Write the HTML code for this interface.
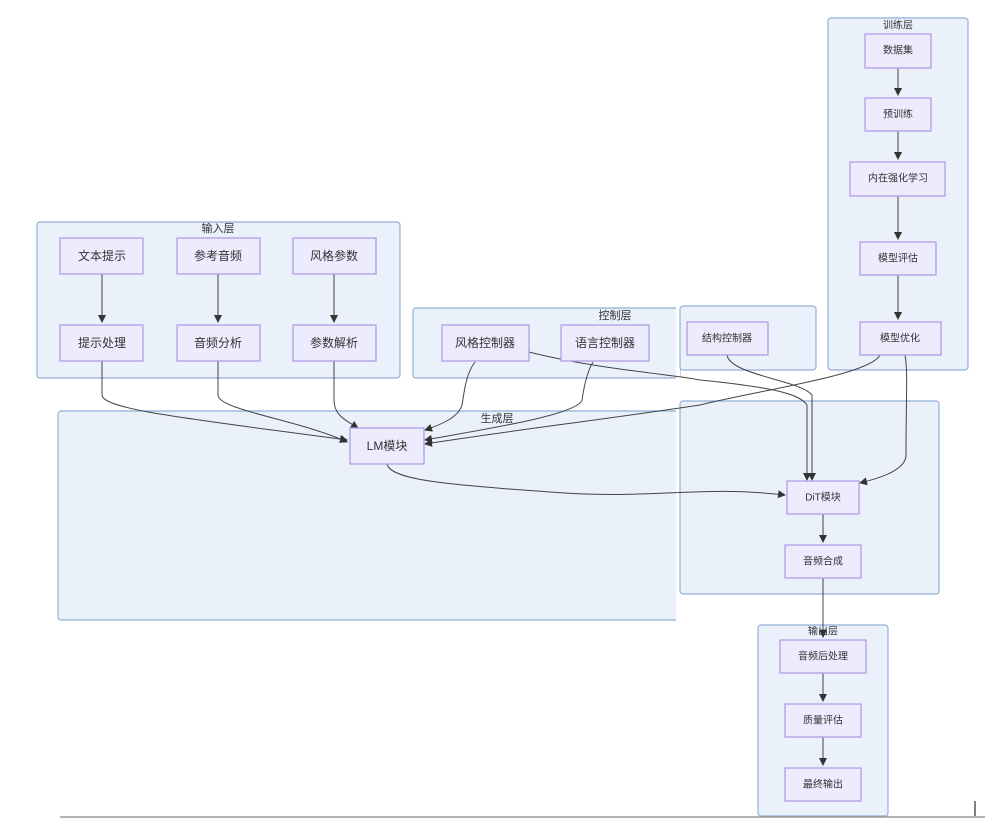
<!DOCTYPE html>
<html><head><meta charset="utf-8"><style>
html,body{margin:0;padding:0;background:#fff;}
svg{display:block}
text{font-family:"Liberation Sans","Noto Sans CJK SC",sans-serif;fill:#333;text-anchor:middle;dominant-baseline:central}
.c{fill:#eaf1fb;stroke:#8fb0d8;stroke-width:1.2}
.n{fill:#ececfe;stroke:#b39ce6;stroke-width:1.3}
.e{fill:none;stroke:#444;stroke-width:1}
</style></head><body>
<svg width="985" height="819" viewBox="0 0 985 819">
<defs><marker id="a" markerWidth="8" markerHeight="8" refX="7" refY="4" orient="auto" markerUnits="userSpaceOnUse"><path d="M0,0 L8,4 L0,8z" fill="#333"/></marker></defs>
<!-- clusters -->
<rect class="c" x="37" y="222" width="363" height="156" rx="3"/>
<text x="218" y="229" font-size="11">输入层</text>
<rect class="c" x="413" y="308" width="267" height="70" rx="3"/>
<text x="615" y="316" font-size="11">控制层</text>
<rect class="c" x="58" y="411" width="620" height="209" rx="3"/>
<text x="497" y="419" font-size="11">生成层</text>
<rect x="676" y="300" width="4" height="330" fill="#fff"/>
<rect class="c" x="680" y="306" width="136" height="64" rx="3"/>
<rect class="c" x="828" y="18" width="140" height="352" rx="3"/>
<text x="898" y="26" font-size="10">训练层</text>
<rect class="c" x="680" y="401" width="259" height="193" rx="3"/>
<rect class="c" x="758" y="625" width="130" height="191" rx="3"/>
<text x="823" y="632" font-size="10">输出层</text>
<!-- edges -->
<g class="e">
<path d="M102,274 V322" marker-end="url(#a)"/>
<path d="M218,274 V322" marker-end="url(#a)"/>
<path d="M334,274 V322" marker-end="url(#a)"/>
<path d="M102,361 V395 C102,410 200,420 347,440" marker-end="url(#a)"/>
<path d="M218,361 V395 C218,410 300,420 347,442" marker-end="url(#a)"/>
<path d="M334,361 V400 C334,415 345,420 358,428" marker-end="url(#a)"/>
<path d="M475,362 C465,375 464,395 462,405 C458,418 440,425 425,430" marker-end="url(#a)"/>
<path d="M593,362 C585,375 583,395 582,400 C578,415 480,430 425,440" marker-end="url(#a)"/>
<path d="M529,352 C600,370 680,375 700,380 C780,388 800,395 807,405 V480" marker-end="url(#a)"/>
<path d="M727,355 C730,375 800,380 812,395 V480" marker-end="url(#a)"/>
<path d="M880,355 C870,375 760,390 700,405 C600,420 500,432 425,444" marker-end="url(#a)"/>
<path d="M905,355 C908,370 906,400 906,455 C906,470 880,478 860,483" marker-end="url(#a)"/>
<path d="M387,464 C390,480 450,485 550,492 C650,500 700,485 785,495" marker-end="url(#a)"/>
<path d="M898,68 V95" marker-end="url(#a)"/>
<path d="M898,131 V159" marker-end="url(#a)"/>
<path d="M898,196 V239" marker-end="url(#a)"/>
<path d="M898,275 V319" marker-end="url(#a)"/>
<path d="M823,514 V542" marker-end="url(#a)"/>
<path d="M823,578 V637" marker-end="url(#a)"/>
<path d="M823,673 V701" marker-end="url(#a)"/>
<path d="M823,737 V765" marker-end="url(#a)"/>
</g>
<!-- nodes -->
<g font-size="12">
<rect class="n" x="60" y="238" width="83" height="36"/><text x="102" y="256">文本提示</text>
<rect class="n" x="177" y="238" width="83" height="36"/><text x="218" y="256">参考音频</text>
<rect class="n" x="293" y="238" width="83" height="36"/><text x="334" y="256">风格参数</text>
<rect class="n" x="60" y="325" width="83" height="36"/><text x="102" y="343">提示处理</text>
<rect class="n" x="177" y="325" width="83" height="36"/><text x="218" y="343">音频分析</text>
<rect class="n" x="293" y="325" width="83" height="36"/><text x="334" y="343">参数解析</text>
<rect class="n" x="442" y="325" width="87" height="36"/><text x="485" y="343">风格控制器</text>
<rect class="n" x="561" y="325" width="88" height="36"/><text x="605" y="343">语言控制器</text>
<rect class="n" x="350" y="428" width="74" height="36"/><text x="387" y="446">LM模块</text>
</g>
<g font-size="10">
<rect class="n" x="687" y="322" width="81" height="33"/><text x="727" y="339">结构控制器</text>
<rect class="n" x="865" y="34" width="66" height="34"/><text x="898" y="51">数据集</text>
<rect class="n" x="865" y="98" width="66" height="33"/><text x="898" y="115">预训练</text>
<rect class="n" x="850" y="162" width="95" height="34"/><text x="898" y="179">内在强化学习</text>
<rect class="n" x="860" y="242" width="76" height="33"/><text x="898" y="259">模型评估</text>
<rect class="n" x="860" y="322" width="81" height="33"/><text x="900" y="339">模型优化</text>
<rect class="n" x="787" y="481" width="72" height="33"/><text x="823" y="498">DiT模块</text>
<rect class="n" x="785" y="545" width="76" height="33"/><text x="823" y="562">音频合成</text>
<rect class="n" x="780" y="640" width="86" height="33"/><text x="823" y="657">音频后处理</text>
<rect class="n" x="785" y="704" width="76" height="33"/><text x="823" y="721">质量评估</text>
<rect class="n" x="785" y="768" width="76" height="33"/><text x="823" y="785">最终输出</text>
</g>
<line x1="60" y1="817" x2="985" y2="817" stroke="#999" stroke-width="1.5"/>
<line x1="975" y1="801" x2="975" y2="816" stroke="#000" stroke-width="1"/>
</svg>
</body></html>
